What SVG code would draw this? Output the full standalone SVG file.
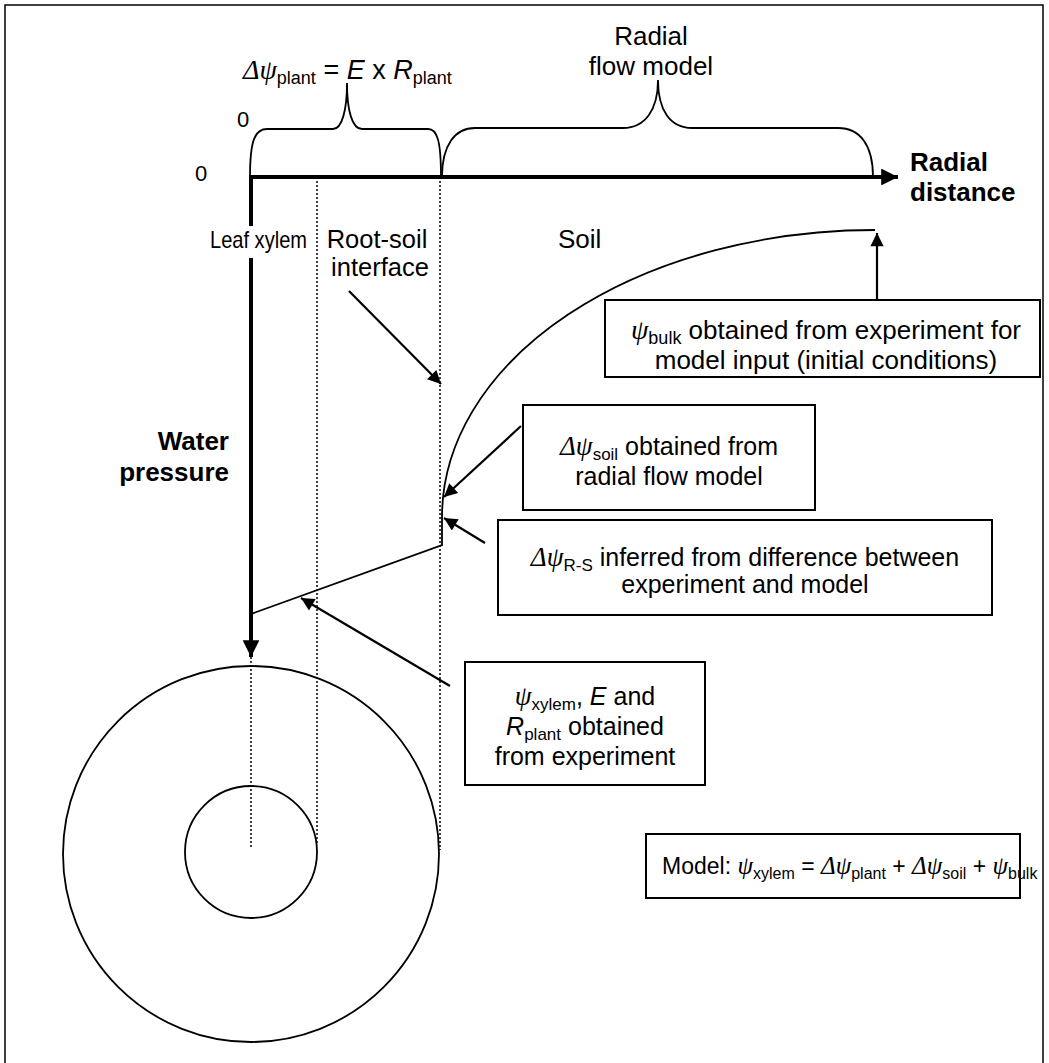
<svg xmlns="http://www.w3.org/2000/svg" width="1049" height="1063" viewBox="0 0 1049 1063">
<style>
text{font-family:"Liberation Sans",Arial,sans-serif;font-size:26px;fill:#000}
.b{font-weight:bold}
.g{font-family:"Liberation Serif","Times New Roman",serif;font-style:italic;font-size:28px}
.i{font-style:italic}
.s{font-size:18px}
.f25{font-size:25px}
.f25 .g{font-size:27px}
.f25 .s{font-size:17px}
.thin{fill:none;stroke:#000;stroke-width:1.8}
.box{fill:#fff;stroke:#000;stroke-width:2}
.dot{fill:none;stroke:#000;stroke-width:1.5;stroke-dasharray:2 2}
.arr{fill:none;stroke:#000;stroke-width:2.2;marker-end:url(#ah)}
.thick{fill:none;stroke:#000;stroke-width:4;marker-end:url(#ahb)}
</style>
<defs>
<marker id="ah" viewBox="0 0 10 10" refX="10" refY="5" markerWidth="7" markerHeight="6" orient="auto" markerUnits="strokeWidth"><path d="M0,0 L10,5 L0,10 z" fill="#000"/></marker>
<marker id="ahb" viewBox="0 0 10 10" refX="10" refY="5" markerWidth="4.2" markerHeight="4.2" orient="auto" markerUnits="strokeWidth"><path d="M0,0 L10,5 L0,10 z" fill="#000"/></marker>
</defs>
<rect x="5" y="5" width="1038" height="1080" fill="#fff" stroke="#000" stroke-width="1.5"/>

<g id="guides">
<line class="dot" x1="251" y1="177" x2="251" y2="847"/>
<line class="dot" x1="317" y1="177" x2="317" y2="845"/>
<line class="dot" x1="440" y1="177" x2="440" y2="850"/>
</g>

<g id="circles">
<circle class="thin" cx="251" cy="854" r="188" stroke-width="2"/>
<circle class="thin" cx="251" cy="852" r="66" stroke-width="2"/>
</g>

<g id="axes">
<line class="thick" x1="250" y1="177" x2="898" y2="177"/>
<line class="thick" x1="251" y1="175" x2="251" y2="657"/>
</g>

<g id="braces">
<path class="thin" d="M250,177 C250,140 255,129 267,129 L333,129 C342,129 347,110 347,83 C347,110 352,129 362,129 L428,129 C437,129 441,140 441,177"/>
<path class="thin" d="M442,177 C442,145 455,128 475,128 L623,128 C645,128 658,110 658,80 C658,110 670,128 692,128 L838,128 C860,128 873,145 873,177"/>
</g>

<g id="profile">
<path class="thin" d="M251,614 L442,545 L442,517 A433,287 0 0 1 875,230"/>
</g>

<g id="labels">
<text x="195" y="181" style="font-size:22px">0</text>
<text x="237" y="127" style="font-size:22px">0</text>
<text x="243" y="79" style="font-size:27px"><tspan class="g">Δψ</tspan><tspan class="s" dy="5">plant</tspan><tspan dy="-5"> = </tspan><tspan class="i">E</tspan> x <tspan class="i">R</tspan><tspan class="s" dy="5">plant</tspan></text>
<text x="651" y="45" text-anchor="middle">Radial</text>
<text x="651" y="75" text-anchor="middle">flow model</text>
<text class="b" x="910" y="171">Radial</text>
<text class="b" x="910" y="201">distance</text>
<rect x="207" y="226" width="104" height="32" fill="#fff"/>
<text x="210" y="248" style="font-size:24px" textLength="97" lengthAdjust="spacingAndGlyphs">Leaf xylem</text>
<text x="377" y="248" text-anchor="middle" style="font-size:25.5px">Root-soil</text>
<text x="380" y="276" text-anchor="middle" style="font-size:25.5px">interface</text>
<text x="558" y="248">Soil</text>
<text class="b" x="229" y="450" text-anchor="end">Water</text>
<text class="b" x="229" y="481" text-anchor="end">pressure</text>
</g>

<g id="connectors">
<line class="arr" x1="349" y1="291" x2="441" y2="384"/>
<line class="arr" x1="877" y1="299" x2="877" y2="233"/>
<line class="arr" x1="521" y1="426" x2="444" y2="497"/>
<line class="arr" x1="485" y1="543" x2="444" y2="518"/>
<line class="arr" x1="450" y1="686" x2="301" y2="598"/>
</g>

<g id="box-bulk">
<rect class="box" x="605" y="300" width="435" height="77"/>
<text x="826" y="339" text-anchor="middle" style="font-size:26px"><tspan class="g">ψ</tspan><tspan class="s" dy="5">bulk</tspan><tspan dy="-5"> obtained from experiment for</tspan></text>
<text x="826" y="369" text-anchor="middle" style="font-size:26px">model input (initial conditions)</text>
</g>

<g id="box-soil">
<rect class="box" x="523" y="405" width="292" height="105"/>
<text x="669" y="455" text-anchor="middle" class="f25"><tspan class="g">Δψ</tspan><tspan class="s" dy="5">soil</tspan><tspan dy="-5"> obtained from</tspan></text>
<text x="669" y="485" text-anchor="middle" class="f25">radial flow model</text>
</g>

<g id="box-rs">
<rect class="box" x="498" y="520" width="494" height="95"/>
<text x="745" y="566" text-anchor="middle" class="f25"><tspan class="g">Δψ</tspan><tspan class="s" dy="5">R-S</tspan><tspan dy="-5"> inferred from difference between</tspan></text>
<text x="745" y="593" text-anchor="middle" class="f25">experiment and model</text>
</g>

<g id="box-xylem">
<rect class="box" x="465" y="662" width="240" height="123"/>
<text x="585" y="705" text-anchor="middle" class="f25"><tspan class="g">ψ</tspan><tspan class="s" dy="5">xylem</tspan><tspan dy="-5">, </tspan><tspan class="i">E</tspan> and</text>
<text x="585" y="735" text-anchor="middle" class="f25"><tspan class="i">R</tspan><tspan class="s" dy="5">plant</tspan><tspan dy="-5"> obtained</tspan></text>
<text x="585" y="765" text-anchor="middle" class="f25">from experiment</text>
</g>

<g id="box-model">
<rect class="box" x="646" y="834" width="374" height="64"/>
<text x="662" y="874" style="font-size:23px">Model:  <tspan class="g" style="font-size:25px">ψ</tspan><tspan style="font-size:16px" dy="5">xylem</tspan><tspan dy="-5"> = </tspan><tspan class="g" style="font-size:25px">Δψ</tspan><tspan style="font-size:16px" dy="5">plant</tspan><tspan dy="-5"> + </tspan><tspan class="g" style="font-size:25px">Δψ</tspan><tspan style="font-size:16px" dy="5">soil</tspan><tspan dy="-5"> + </tspan><tspan class="g" style="font-size:25px">ψ</tspan><tspan style="font-size:16px" dy="5">bulk</tspan></text>
</g>
</svg>
